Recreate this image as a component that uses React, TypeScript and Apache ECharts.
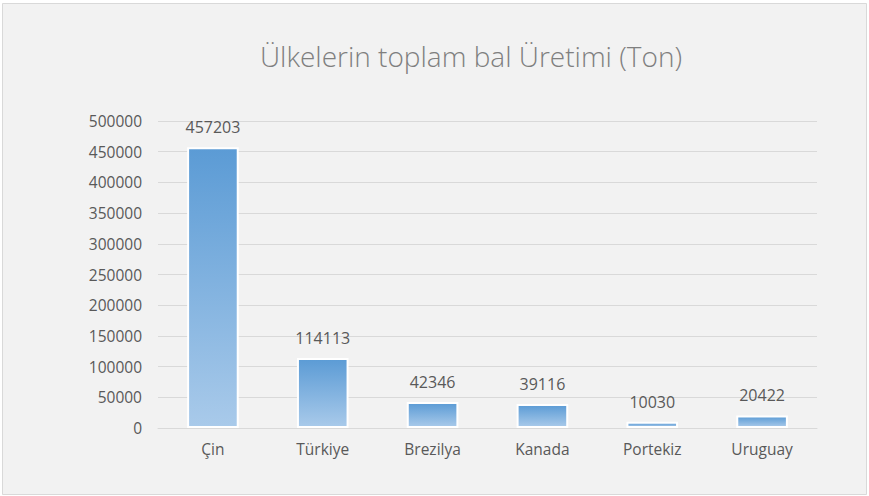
import React, { useEffect, useRef } from "react";
import * as echarts from "echarts";

const categories = ["Çin", "Türkiye", "Brezilya", "Kanada", "Portekiz", "Uruguay"];
const values = [457203, 114113, 42346, 39116, 10030, 20422];
const titleText = "Ülkelerin toplam bal Üretimi (Ton)";

export default function App() {
  const ref = useRef<HTMLDivElement>(null);
  useEffect(() => {
    if (!ref.current) return;
    const chart = echarts.init(ref.current, null, { renderer: "svg" });
    chart.setOption({
      animation: false,
      backgroundColor: "#ffffff",
      graphic: [
        {
          type: "rect",
          shape: { x: 2.5, y: 3.5, width: 864, height: 491 },
          style: { fill: "#f2f2f2", stroke: "#d9d9d9", lineWidth: 1 },
          z: -10,
          silent: true,
        },
      ],
      title: {
        text: titleText,
        left: 466,
        top: 37,
        textAlign: "center",
        textStyle: {
          fontFamily: "Open Sans",
          fontWeight: 300,
          fontSize: 28,
          color: "#7f7f7f",
        },
      },
      grid: { left: 158, right: 52, top: 121, bottom: 68, containLabel: false },
      xAxis: {
        type: "category",
        data: categories,
        axisLine: { show: true, lineStyle: { color: "#d9d9d9" } },
        axisTick: { show: false },
        axisLabel: {
          color: "#595959",
          fontFamily: "Open Sans",
          fontSize: 15.5,
          margin: 13,
        },
      },
      yAxis: {
        type: "value",
        min: 0,
        max: 500000,
        interval: 50000,
        axisLine: { show: false },
        axisTick: { show: false },
        axisLabel: {
          color: "#595959",
          fontFamily: "Open Sans",
          fontSize: 15.5,
          margin: 16,
          formatter: (v: number) => String(v),
        },
        splitLine: { lineStyle: { color: "#d9d9d9" } },
      },
      series: [
        {
          type: "bar",
          data: values,
          barWidth: "47%",
          itemStyle: {
            color: new echarts.graphic.LinearGradient(0, 0, 0, 1, [
              { offset: 0, color: "#5b9bd5" },
              { offset: 1, color: "#a9caea" },
            ]),
            borderColor: "#ffffff",
            borderWidth: 2,
          },
          label: {
            show: true,
            position: "top",
            distance: 12,
            color: "#595959",
            fontFamily: "Open Sans",
            fontSize: 16,
          },
        },
      ],
    });
    return () => chart.dispose();
  }, []);
  return (
    <div
      ref={ref}
      style={{ position: "fixed", left: 0, top: 0, width: 869, height: 496 }}
    />
  );
}
